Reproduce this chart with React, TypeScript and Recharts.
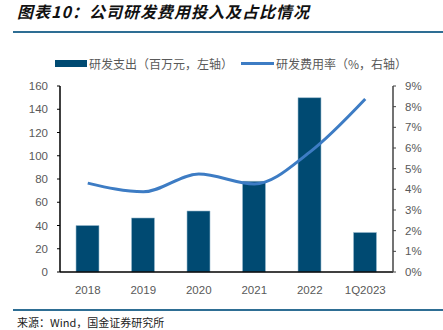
import React from 'react'
import { ComposedChart, Bar, Line, XAxis, YAxis } from 'recharts'

// values
const years = ['2018', '2019', '2020', '2021', '2022', '1Q2023']
const rdSpend = [40, 46.5, 52.5, 78, 150, 34]
const rdRatio = [0.043, 0.0388, 0.0474, 0.0426, 0.058, 0.0837]
const leftTicks = [0, 20, 40, 60, 80, 100, 120, 140, 160]
const rightTicks = [0, 0.01, 0.02, 0.03, 0.04, 0.05, 0.06, 0.07, 0.08, 0.09]

const data = years.map((year, i) => ({ year, spend: rdSpend[i], ratio: rdRatio[i] }))

const BAR_COLOR = '#004a72'
const LINE_COLOR = '#3d7cc4'
const TEXT_GREY = '#595959'
const FONT = '"Liberation Sans", Arial, "Noto Sans CJK SC", sans-serif'

const App: React.FC = () => {
  return (
    <div style={{ position: 'absolute', left: 0, top: 0, width: 443, height: 330, background: '#fff', fontFamily: FONT }}>
      <div
        style={{
          position: 'absolute', left: 17, top: 0, fontSize: 16, fontWeight: 700, fontStyle: 'italic',
          letterSpacing: 1, color: '#111', fontFamily: '"Noto Sans CJK SC", sans-serif', lineHeight: '22px',
        }}
      >
        图表10：公司研发费用投入及占比情况
      </div>
      <div style={{ position: 'absolute', left: 13, top: 31, width: 430, height: 2, background: '#2e6e94' }} />

      {/* legend */}
      <div style={{ position: 'absolute', left: 55, top: 55, height: 16, display: 'flex', alignItems: 'center', fontSize: 12, color: TEXT_GREY, fontFamily: '"Noto Sans CJK SC", sans-serif' }}>
        <span style={{ display: 'inline-block', width: 32, height: 7, background: BAR_COLOR, marginRight: 2 }} />
        <span>研发支出（百万元，左轴）</span>
        <span style={{ display: 'inline-block', width: 33, height: 3, background: LINE_COLOR, marginLeft: 8, marginRight: 2 }} />
        <span>研发费用率（%，右轴）</span>
      </div>

      <div style={{ position: 'absolute', left: 0, top: 0 }}>
        <ComposedChart width={443} height={330} data={data} margin={{ top: 86, right: 0, bottom: 28, left: 0 }}>
          <XAxis
            dataKey="year"
            height={30}
            axisLine={{ stroke: '#000', strokeWidth: 1.5 }}
            tickLine={false}
            tick={{ fill: TEXT_GREY, fontSize: 11.5, fontFamily: FONT }}
            tickMargin={8}
          />
          <YAxis
            yAxisId="left"
            width={60}
            domain={[0, 160]}
            ticks={leftTicks}
            interval={0}
            axisLine={{ stroke: '#000', strokeWidth: 1.5 }}
            tickLine={{ stroke: '#000' }}
            tickSize={3}
            tickMargin={9}
            tick={{ fill: TEXT_GREY, fontSize: 11.5, fontFamily: FONT }}
          />
          <YAxis
            yAxisId="right"
            orientation="right"
            width={50}
            domain={[0, 0.09]}
            ticks={rightTicks}
            interval={0}
            axisLine={{ stroke: '#444', strokeWidth: 1.5 }}
            tickLine={{ stroke: '#444' }}
            tickSize={3}
            tickMargin={9}
            tickFormatter={(v: number) => `${Math.round(v * 100)}%`}
            tick={{ fill: TEXT_GREY, fontSize: 11.5, fontFamily: FONT, textAnchor: 'start' }}
          />
          <Bar yAxisId="left" dataKey="spend" fill={BAR_COLOR} stroke="#9cbcd0" strokeWidth={0.6} barSize={23} isAnimationActive={false} />
          <Line
            yAxisId="right"
            type="monotone"
            dataKey="ratio"
            stroke={LINE_COLOR}
            strokeWidth={3}
            dot={false}
            isAnimationActive={false}
          />
        </ComposedChart>
      </div>

      <div style={{ position: 'absolute', left: 13, top: 309, width: 430, height: 2, background: '#2e6e94' }} />
      <div style={{ position: 'absolute', left: 17, top: 314, fontSize: 11, color: '#222', fontFamily: '"Noto Sans CJK SC", sans-serif', lineHeight: '16px' }}>
        来源：Wind，国金证券研究所
      </div>
    </div>
  )
}

export default App
